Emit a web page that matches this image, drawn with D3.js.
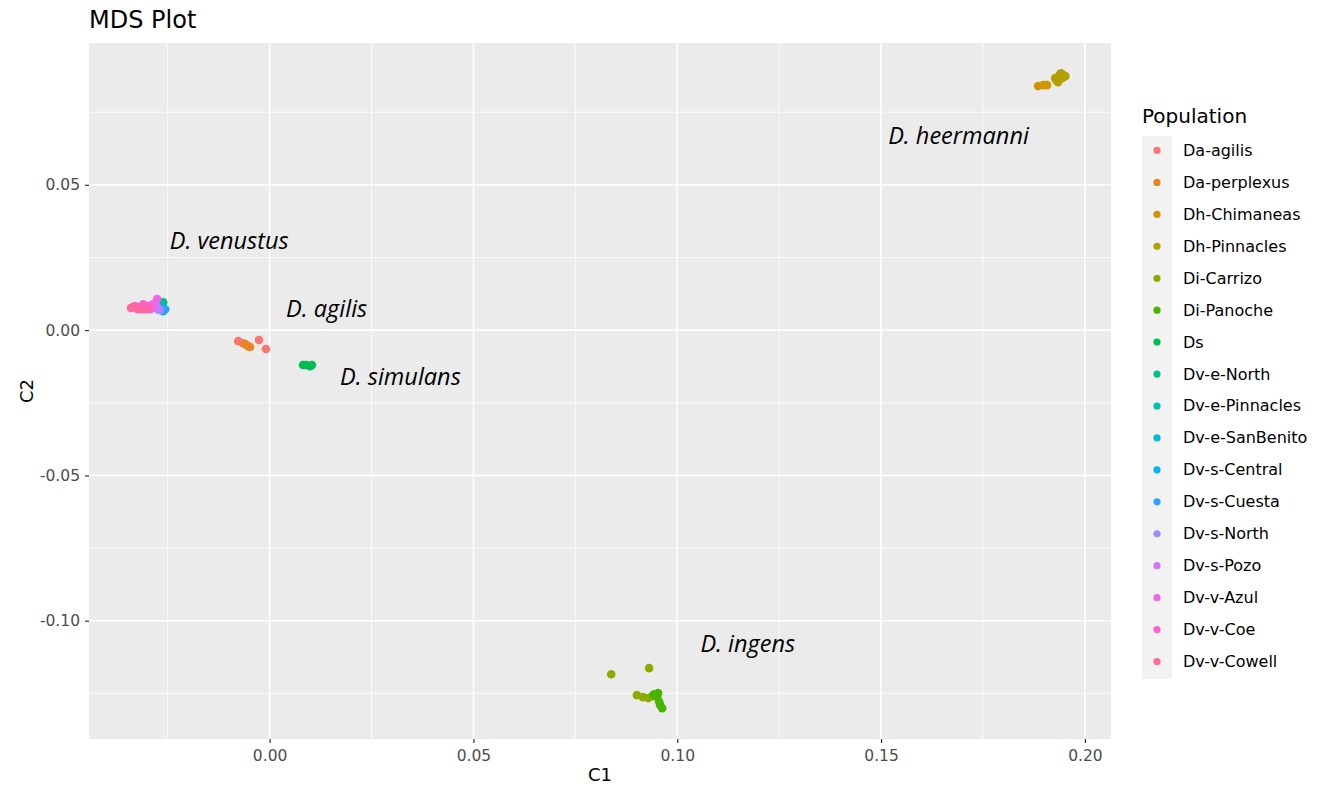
<!DOCTYPE html>
<html>
<head>
<meta charset="utf-8">
<script src="https://cdn.jsdelivr.net/npm/d3@7"></script>
<style>
  html, body { margin: 0; padding: 0; background: #fff; }
  svg text { font-family: "DejaVu Sans", sans-serif; }
</style>
</head>
<body>
<svg id="chart" width="1325" height="788"></svg>
<script>
// Populations in legend order
const populations = [
  "Da-agilis", "Da-perplexus", "Dh-Chimaneas", "Dh-Pinnacles", "Di-Carrizo",
  "Di-Panoche", "Ds", "Dv-e-North", "Dv-e-Pinnacles", "Dv-e-SanBenito",
  "Dv-s-Central", "Dv-s-Cuesta", "Dv-s-North", "Dv-s-Pozo", "Dv-v-Azul",
  "Dv-v-Coe", "Dv-v-Cowell"
];

// MDS coordinates per sample: [population, C1, C2]
const samples = [
  ["Da-agilis", -0.0077, -0.0038], ["Da-agilis", -0.0026, -0.0034],
  ["Da-agilis", -0.0009, -0.0065], ["Da-agilis", -0.0065, -0.0045],
  ["Da-perplexus", -0.0060, -0.0048], ["Da-perplexus", -0.0053, -0.0055],
  ["Da-perplexus", -0.0048, -0.0058],
  ["Dh-Chimaneas", 0.1885, 0.0840], ["Dh-Chimaneas", 0.1898, 0.0843],
  ["Dh-Chimaneas", 0.1907, 0.0843],
  ["Dh-Pinnacles", 0.1930, 0.0860], ["Dh-Pinnacles", 0.1934, 0.0871],
  ["Dh-Pinnacles", 0.1939, 0.0881], ["Dh-Pinnacles", 0.1947, 0.0877],
  ["Dh-Pinnacles", 0.1944, 0.0867], ["Dh-Pinnacles", 0.1934, 0.0853],
  ["Dh-Pinnacles", 0.1927, 0.0867], ["Dh-Pinnacles", 0.1942, 0.0884],
  ["Dh-Pinnacles", 0.1952, 0.0874],
  ["Di-Carrizo", 0.0838, -0.1184], ["Di-Carrizo", 0.0931, -0.1163],
  ["Di-Carrizo", 0.0901, -0.1256], ["Di-Carrizo", 0.0916, -0.1263],
  ["Di-Carrizo", 0.0929, -0.1266], ["Di-Carrizo", 0.0938, -0.1260],
  ["Di-Panoche", 0.0943, -0.1253], ["Di-Panoche", 0.0953, -0.1249],
  ["Di-Panoche", 0.0956, -0.1280], ["Di-Panoche", 0.0963, -0.1301],
  ["Di-Panoche", 0.0951, -0.1263], ["Di-Panoche", 0.0958, -0.1290],
  ["Di-Panoche", 0.0946, -0.1256],
  ["Ds", 0.0082, -0.0120], ["Ds", 0.0090, -0.0120],
  ["Ds", 0.0099, -0.0124], ["Ds", 0.0104, -0.0120],
  ["Dv-e-North", -0.0261, 0.0096], ["Dv-e-North", -0.0264, 0.0093],
  ["Dv-e-North", -0.0269, 0.0089],
  ["Dv-e-Pinnacles", -0.0274, 0.0083], ["Dv-e-Pinnacles", -0.0269, 0.0086],
  ["Dv-e-SanBenito", -0.0266, 0.0072],
  ["Dv-s-Central", -0.0261, 0.0069], ["Dv-s-Central", -0.0269, 0.0072],
  ["Dv-s-Cuesta", -0.0256, 0.0072], ["Dv-s-Cuesta", -0.0261, 0.0065],
  ["Dv-s-North", -0.0274, 0.0072], ["Dv-s-North", -0.0269, 0.0069],
  ["Dv-s-North", -0.0281, 0.0076],
  ["Dv-s-Pozo", -0.0281, 0.0083], ["Dv-s-Pozo", -0.0288, 0.0086],
  ["Dv-s-Pozo", -0.0276, 0.0079],
  ["Dv-v-Azul", -0.0276, 0.0107], ["Dv-v-Azul", -0.0286, 0.0089],
  ["Dv-v-Azul", -0.0293, 0.0079],
  ["Dv-v-Coe", -0.0330, 0.0083], ["Dv-v-Coe", -0.0318, 0.0079],
  ["Dv-v-Coe", -0.0305, 0.0076], ["Dv-v-Coe", -0.0298, 0.0083],
  ["Dv-v-Coe", -0.0310, 0.0089], ["Dv-v-Coe", -0.0293, 0.0072],
  ["Dv-v-Coe", -0.0323, 0.0072],
  ["Dv-v-Cowell", -0.0335, 0.0079], ["Dv-v-Cowell", -0.0325, 0.0076],
  ["Dv-v-Cowell", -0.0313, 0.0072], ["Dv-v-Cowell", -0.0303, 0.0072],
  ["Dv-v-Cowell", -0.0340, 0.0076]
];

// Species annotations: [label, C1, C2]
const speciesLabels = [
  ["D. venustus", -0.0099, 0.0310],
  ["D. agilis", 0.0140, 0.0076],
  ["D. simulans", 0.0321, -0.0158],
  ["D. heermanni", 0.1690, 0.0671],
  ["D. ingens", 0.1173, -0.1077]
];

const xTicks = [0.00, 0.05, 0.10, 0.15, 0.20];
const xMinor = [-0.025, 0.025, 0.075, 0.125, 0.175];
const yTicks = [-0.10, -0.05, 0.00, 0.05];
const yMinor = [-0.125, -0.075, -0.025, 0.025, 0.075];
const xDomain = [-0.0443, 0.2064];
const yDomain = [-0.1407, 0.0988];

// ggplot-style hue palette: polar CIE-LUV (l = 65, c = 100) to sRGB
function hclLuv(h, c, l) {
  const Xn = 95.047, Yn = 100.0, Zn = 108.883;
  const un = 4 * Xn / (Xn + 15 * Yn + 3 * Zn);
  const vn = 9 * Yn / (Xn + 15 * Yn + 3 * Zn);
  const hr = h * Math.PI / 180;
  const U = c * Math.cos(hr), V = c * Math.sin(hr);
  const Y = l > 8 ? Yn * Math.pow((l + 16) / 116, 3) : Yn * l / 903.3;
  const up = U / (13 * l) + un, vp = V / (13 * l) + vn;
  const X = 9 * Y * up / (4 * vp);
  const Z = -X / 3 - 5 * Y + 3 * Y / vp;
  const x = X / 100, y = Y / 100, z = Z / 100;
  const lin = [
    3.240479 * x - 1.537150 * y - 0.498535 * z,
    -0.969256 * x + 1.875992 * y + 0.041556 * z,
    0.055648 * x - 0.204043 * y + 1.057311 * z
  ];
  const g = v => {
    const s = v > 0.00304 ? 1.055 * Math.pow(v, 1 / 2.4) - 0.055 : 12.92 * v;
    return Math.round(Math.max(0, Math.min(1, s)) * 255);
  };
  return d3.rgb(g(lin[0]), g(lin[1]), g(lin[2])).formatHex();
}
const n = populations.length;
const palette = populations.map((_, i) => hclLuv(15 + 360 * i / n, 100, 65));
const color = d3.scaleOrdinal().domain(populations).range(palette);

const svg = d3.select("#chart");
const panel = { left: 89, top: 43, right: 1111, bottom: 739 };

const x = d3.scaleLinear().domain(xDomain).range([panel.left, panel.right]);
const y = d3.scaleLinear().domain(yDomain).range([panel.bottom, panel.top]);

// Panel background
svg.append("rect")
  .attr("x", panel.left).attr("y", panel.top)
  .attr("width", panel.right - panel.left).attr("height", panel.bottom - panel.top)
  .attr("fill", "#EBEBEB");

// Grid lines
const grid = svg.append("g");
grid.selectAll(".xminor").data(xMinor).join("line")
  .attr("x1", d => x(d)).attr("x2", d => x(d))
  .attr("y1", panel.top).attr("y2", panel.bottom)
  .attr("stroke", "#fff").attr("stroke-width", 0.8);
grid.selectAll(".yminor").data(yMinor).join("line")
  .attr("y1", d => y(d)).attr("y2", d => y(d))
  .attr("x1", panel.left).attr("x2", panel.right)
  .attr("stroke", "#fff").attr("stroke-width", 0.8);
grid.selectAll(".xmajor").data(xTicks).join("line")
  .attr("x1", d => x(d)).attr("x2", d => x(d))
  .attr("y1", panel.top).attr("y2", panel.bottom)
  .attr("stroke", "#fff").attr("stroke-width", 1.6);
grid.selectAll(".ymajor").data(yTicks).join("line")
  .attr("y1", d => y(d)).attr("y2", d => y(d))
  .attr("x1", panel.left).attr("x2", panel.right)
  .attr("stroke", "#fff").attr("stroke-width", 1.6);

// Axes
const xAxis = svg.append("g")
  .attr("transform", `translate(0,${panel.bottom})`)
  .call(d3.axisBottom(x).tickValues(xTicks).tickFormat(d3.format(".2f")).tickSize(4).tickPadding(4));
const yAxis = svg.append("g")
  .attr("transform", `translate(${panel.left},0)`)
  .call(d3.axisLeft(y).tickValues(yTicks).tickFormat(d3.format(".2f")).tickSize(4).tickPadding(5));
[xAxis, yAxis].forEach(a => {
  a.select(".domain").remove();
  a.selectAll(".tick line").attr("stroke", "#333333").attr("stroke-width", 1.2);
  a.selectAll(".tick text").attr("fill", "#4D4D4D").style("font-size", "15.5px")
    .style("font-family", "'DejaVu Sans', sans-serif");
});
xAxis.selectAll(".tick text").attr("dy", "0.9em");
// ggplot prints the minus sign as a hyphen
yAxis.selectAll(".tick text").text(d => d3.format(".2f")(d).replace("\u2212", "-"));

// Points
svg.append("g").selectAll("circle").data(samples).join("circle")
  .attr("cx", d => x(d[1])).attr("cy", d => y(d[2]))
  .attr("r", 4.3)
  .attr("fill", d => color(d[0]));

// Species labels
svg.append("g").selectAll("text").data(speciesLabels).join("text")
  .attr("x", d => x(d[1])).attr("y", d => y(d[2]))
  .attr("text-anchor", "middle").attr("dominant-baseline", "central")
  .style("font-family", "'Open Sans', sans-serif")
  .style("font-style", "italic").style("font-size", "23.5px")
  .attr("fill", "#000")
  .text(d => d[0]);

// Title and axis titles
svg.append("text").attr("x", panel.left).attr("y", 28)
  .style("font-size", "24px").attr("fill", "#000").text("MDS Plot");
svg.append("text").attr("x", (panel.left + panel.right) / 2).attr("y", 781)
  .attr("text-anchor", "middle").style("font-size", "18px").attr("fill", "#000").text("C1");
svg.append("text")
  .attr("transform", `translate(33,${(panel.top + panel.bottom) / 2}) rotate(-90)`)
  .attr("text-anchor", "middle").style("font-size", "18px").attr("fill", "#000").text("C2");

// Legend
const legend = svg.append("g").attr("transform", "translate(1142,0)");
legend.append("text").attr("x", 0).attr("y", 123)
  .style("font-size", "20px").attr("fill", "#000").text("Population");
const keyTop = 136, keyH = 31.94;
legend.append("rect").attr("x", 0).attr("y", keyTop)
  .attr("width", 30).attr("height", keyH * n).attr("fill", "#F2F2F2");
const items = legend.selectAll(".item").data(populations).join("g")
  .attr("transform", (d, i) => `translate(0,${keyTop + keyH * i + keyH / 2 - 1.5})`);
items.append("circle").attr("cx", 15).attr("cy", 0).attr("r", 3.6).attr("fill", d => color(d));
items.append("text").attr("x", 41).attr("y", 0).attr("dominant-baseline", "central")
  .style("font-size", "16px").attr("fill", "#000").text(d => d);
</script>
</body>
</html>
